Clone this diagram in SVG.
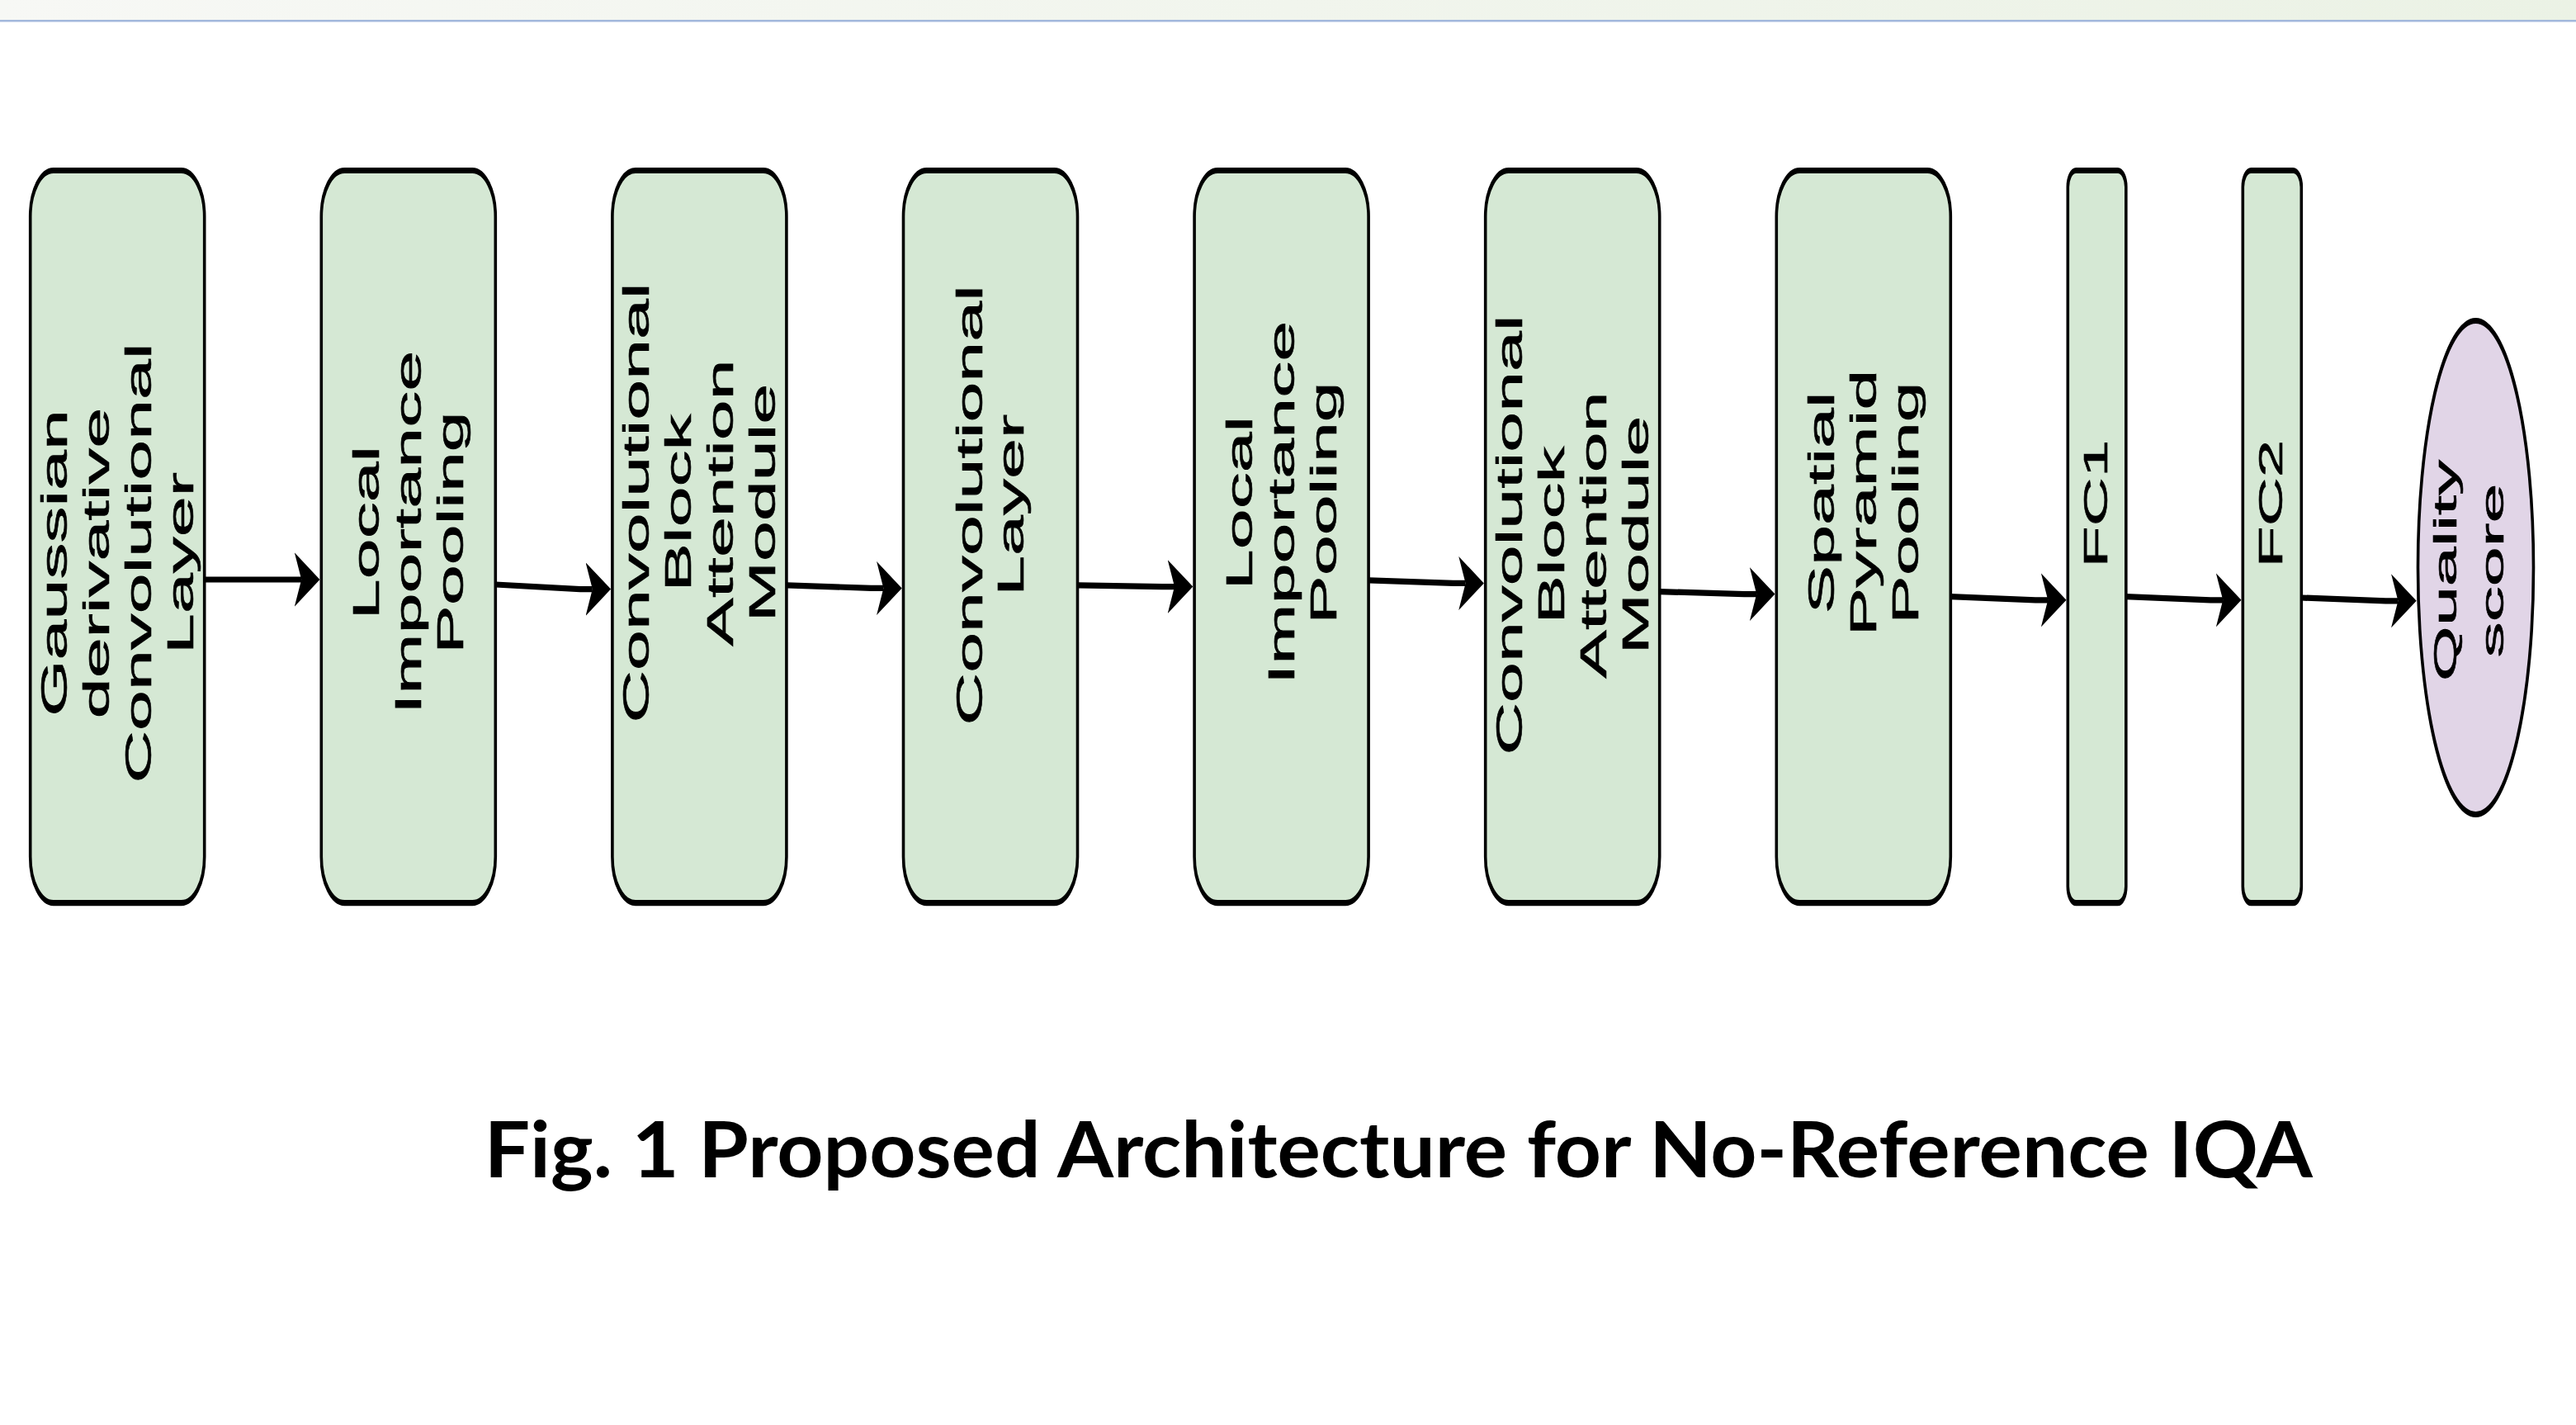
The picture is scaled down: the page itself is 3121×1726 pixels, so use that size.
<svg xmlns="http://www.w3.org/2000/svg" width="3121" height="1726" viewBox="0 0 3121 1726">
<style>
.box{fill:#d5e8d4;stroke:#000;stroke-width:3.6}
.ell{fill:#e1d5e7;stroke:#000;stroke-width:3.6}
.t{font-family:"Liberation Sans",Arial,sans-serif;font-size:44px;fill:#000;stroke:#000;stroke-width:0.6;text-anchor:middle}
.fc{font-size:41px}
.q{font-size:38.5px}
.edge{fill:none;stroke:#000;stroke-width:3.6;marker-end:url(#ah)}
.title{font-family:Lato,"Open Sans","Liberation Sans",sans-serif;font-weight:bold;font-size:93px;fill:#000}
</style>
<defs>
<linearGradient id="band" x1="0" y1="0" x2="1" y2="0">
<stop offset="0" stop-color="#f7f8f5"/>
<stop offset="1" stop-color="#ebf2e5"/>
</linearGradient>
<marker id="ah" markerUnits="userSpaceOnUse" markerWidth="32" markerHeight="34" viewBox="0 -17 32 34" refX="8.3" refY="0" orient="auto">
<path d="M0,-16.25 L30.6,0 L0,16.25 L8.3,0 Z" fill="#000"/>
</marker>
</defs>
<rect x="0" y="0" width="3121" height="1726" fill="#fff"/>
<rect x="0" y="0" width="3121" height="24" fill="url(#band)"/>
<line x1="0" y1="25.3" x2="3121" y2="25.3" stroke="#a2b8dc" stroke-width="2.6"/>

<g transform="scale(1,2)">
<g id="connectors">
<path class="edge" d="M247.7,351 L365.2,351"/>
<path class="edge" d="M600.3,354 L702.8,356.8 L717.8,356.8"/>
<path class="edge" d="M952.9,354.4 L1055.4,356.2 L1070.4,356.2"/>
<path class="edge" d="M1305.5,354.4 L1408,355.3 L1423,355.3"/>
<path class="edge" d="M1658.1,351.4 L1760.6,353.2 L1775.6,353.2"/>
<path class="edge" d="M2010.7,358.3 L2113.2,359.8 L2128.2,359.8"/>
<path class="edge" d="M2363.3,361.3 L2466.2,363.4 L2481.2,363.4"/>
<path class="edge" d="M2575.8,361.3 L2678.2,363.4 L2693.2,363.4"/>
<path class="edge" d="M2788.3,362 L2890.4,363.9 L2905.4,363.9"/>
</g>

<g id="n1">
<rect class="box" x="36.7" y="103.25" width="211" height="443.6" rx="28" ry="28"/>
<text class="t" transform="translate(142.2,341) rotate(-90)"><tspan x="0" y="-61.5">Gaussian</tspan><tspan x="0" y="-10.5">derivative</tspan><tspan x="0" y="40.5">Convolutional</tspan><tspan x="0" y="91.5">Layer</tspan></text>
</g>
<g id="n2">
<rect class="box" x="389.3" y="103.25" width="211" height="443.6" rx="28" ry="28"/>
<text class="t" transform="translate(494.8,322.5) rotate(-90)"><tspan x="0" y="-36">Local</tspan><tspan x="0" y="15">Importance</tspan><tspan x="0" y="66">Pooling</tspan></text>
</g>
<g id="n3">
<rect class="box" x="741.9" y="103.25" width="211" height="443.6" rx="28" ry="28"/>
<text class="t" transform="translate(847.4,304.5) rotate(-90)"><tspan x="0" y="-61.5">Convolutional</tspan><tspan x="0" y="-10.5">Block</tspan><tspan x="0" y="40.5">Attention</tspan><tspan x="0" y="91.5">Module</tspan></text>
</g>
<g id="n4">
<rect class="box" x="1094.5" y="103.25" width="211" height="443.6" rx="28" ry="28"/>
<text class="t" transform="translate(1200,305.9) rotate(-90)"><tspan x="0" y="-10.5">Convolutional</tspan><tspan x="0" y="40.5">Layer</tspan></text>
</g>
<g id="n5">
<rect class="box" x="1447.1" y="103.25" width="211" height="443.6" rx="28" ry="28"/>
<text class="t" transform="translate(1552.6,304.5) rotate(-90)"><tspan x="0" y="-36">Local</tspan><tspan x="0" y="15">Importance</tspan><tspan x="0" y="66">Pooling</tspan></text>
</g>
<g id="n6">
<rect class="box" x="1799.7" y="103.25" width="211" height="443.6" rx="28" ry="28"/>
<text class="t" transform="translate(1905.2,324) rotate(-90)"><tspan x="0" y="-61.5">Convolutional</tspan><tspan x="0" y="-10.5">Block</tspan><tspan x="0" y="40.5">Attention</tspan><tspan x="0" y="91.5">Module</tspan></text>
</g>
<g id="n7">
<rect class="box" x="2152.3" y="103.25" width="211" height="443.6" rx="28" ry="28"/>
<text class="t" transform="translate(2257.8,304.5) rotate(-90)"><tspan x="0" y="-36">Spatial</tspan><tspan x="0" y="15">Pyramid</tspan><tspan x="0" y="66">Pooling</tspan></text>
</g>
<g id="fc1">
<rect class="box" x="2505.3" y="103.25" width="70.5" height="443.6" rx="10" ry="10"/>
<text class="t fc" transform="translate(2540.5,305) rotate(-90)"><tspan x="0" y="12">FC1</tspan></text>
</g>
<g id="fc2">
<rect class="box" x="2717.3" y="103.25" width="71" height="443.6" rx="10" ry="10"/>
<text class="t fc" transform="translate(2752.8,305) rotate(-90)"><tspan x="0" y="12.5">FC2</tspan></text>
</g>
<g id="quality">
<ellipse class="ell" cx="2999.5" cy="343.75" rx="70" ry="149.5"/>
<text class="t q" transform="translate(2999.5,345.5) rotate(-90) scale(1.12,1)"><tspan x="0" y="-24">Quality</tspan><tspan x="0" y="33">score</tspan></text>
</g>
</g>

<g id="caption">
<text class="title" x="586.7" y="1426" textLength="2215" lengthAdjust="spacingAndGlyphs">Fig. 1 Proposed Architecture for No-Reference IQA</text>
</g>
</svg>
